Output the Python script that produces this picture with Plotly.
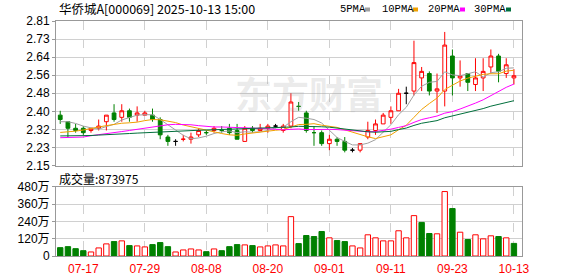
import plotly.graph_objects as go

# ---------------- data ----------------
dates = ["07-14","07-15","07-16","07-17","07-18","07-21","07-22","07-23","07-24","07-25",
         "07-28","07-29","07-30","07-31","08-01","08-04","08-05","08-06","08-07","08-08",
         "08-11","08-12","08-13","08-14","08-15","08-18","08-19","08-20","08-21","08-22",
         "08-25","08-26","08-27","08-28","08-29","09-01","09-02","09-03","09-04","09-05",
         "09-08","09-09","09-10","09-11","09-12","09-15","09-16","09-17","09-18","09-19",
         "09-22","09-23","09-24","09-25","09-26","09-29","09-30","10-09","10-10","10-13"]

opens  = [2.38,2.35,2.32,2.32,2.31,2.32,2.35,2.39,2.37,2.40,
          2.38,2.38,2.38,2.36,2.28,2.26,2.27,2.27,2.29,2.30,
          2.31,2.31,2.32,2.31,2.26,2.32,2.31,2.32,2.33,2.31,
          2.33,2.42,2.39,2.30,2.30,2.25,2.27,2.26,2.22,2.22,
          2.28,2.31,2.34,2.37,2.40,2.48,2.49,2.55,2.57,2.49,
          2.49,2.65,2.55,2.57,2.52,2.55,2.60,2.65,2.57,2.55]
highs  = [2.40,2.35,2.34,2.33,2.32,2.36,2.38,2.43,2.43,2.41,
          2.42,2.40,2.41,2.37,2.29,2.27,2.29,2.30,2.32,2.31,
          2.33,2.33,2.34,2.34,2.33,2.33,2.34,2.34,2.34,2.34,
          2.48,2.44,2.40,2.33,2.31,2.29,2.28,2.28,2.23,2.25,
          2.35,2.36,2.39,2.42,2.50,2.51,2.72,2.60,2.58,2.57,
          2.76,2.68,2.63,2.57,2.64,2.64,2.68,2.66,2.64,2.59]
lows   = [2.34,2.28,2.30,2.29,2.30,2.31,2.31,2.35,2.35,2.35,
          2.35,2.38,2.35,2.27,2.24,2.24,2.26,2.25,2.28,2.29,
          2.30,2.30,2.29,2.27,2.26,2.30,2.31,2.30,2.32,2.30,
          2.32,2.40,2.30,2.24,2.24,2.22,2.24,2.21,2.21,2.21,
          2.27,2.29,2.34,2.34,2.40,2.43,2.47,2.49,2.47,2.39,
          2.42,2.47,2.51,2.49,2.49,2.49,2.57,2.53,2.55,2.52]
closes = [2.36,2.32,2.31,2.30,2.32,2.33,2.38,2.36,2.40,2.37,
          2.39,2.39,2.36,2.29,2.26,2.26,2.27,2.28,2.31,2.30,
          2.32,2.31,2.30,2.27,2.32,2.31,2.32,2.33,2.33,2.33,
          2.44,2.42,2.31,2.30,2.25,2.27,2.26,2.22,2.22,2.25,
          2.31,2.34,2.38,2.40,2.48,2.48,2.62,2.58,2.49,2.50,
          2.70,2.55,2.56,2.53,2.55,2.58,2.65,2.58,2.61,2.56]

ma5  = [2.350,2.350,2.342,2.330,2.322,2.316,2.328,2.338,2.358,2.368,
        2.380,2.382,2.382,2.360,2.338,2.312,2.288,2.272,2.276,2.284,
        2.296,2.304,2.308,2.300,2.304,2.302,2.304,2.310,2.322,2.324,
        2.350,2.370,2.366,2.360,2.344,2.310,2.278,2.260,2.244,2.244,
        2.252,2.268,2.300,2.336,2.382,2.416,2.472,2.512,2.530,2.534,
        2.578,2.564,2.560,2.568,2.578,2.554,2.574,2.578,2.594,2.596]
ma10 = [2.301,2.303,2.307,2.312,2.320,2.326,2.332,2.338,2.343,2.345,
        2.348,2.355,2.360,2.359,2.353,2.346,2.335,2.327,2.318,2.311,
        2.304,2.296,2.290,2.288,2.294,2.299,2.304,2.309,2.311,2.314,
        2.326,2.337,2.338,2.341,2.334,2.330,2.324,2.313,2.302,2.294,
        2.281,2.273,2.280,2.290,2.313,2.334,2.370,2.406,2.433,2.458,
        2.497,2.518,2.536,2.549,2.556,2.566,2.569,2.569,2.581,2.585]
ma20 = [2.277,2.278,2.279,2.280,2.286,2.290,2.295,2.300,2.305,2.310,
        2.315,2.320,2.325,2.332,2.336,2.338,2.338,2.336,2.332,2.328,
        2.326,2.326,2.325,2.324,2.324,2.323,2.320,2.318,2.315,2.313,
        2.315,2.317,2.314,2.315,2.314,2.315,2.314,2.311,2.307,2.304,
        2.304,2.305,2.309,2.316,2.324,2.332,2.347,2.360,2.368,2.376,
        2.389,2.396,2.408,2.420,2.435,2.450,2.470,2.488,2.507,2.522]
ma30 = [2.285,2.285,2.286,2.286,2.287,2.289,2.290,2.292,2.294,2.296,
        2.298,2.300,2.302,2.304,2.306,2.308,2.309,2.310,2.311,2.312,
        2.313,2.314,2.315,2.316,2.318,2.319,2.320,2.321,2.322,2.323,
        2.326,2.329,2.329,2.329,2.327,2.325,2.321,2.316,2.310,2.306,
        2.304,2.302,2.303,2.306,2.314,2.321,2.333,2.343,2.349,2.355,
        2.368,2.376,2.385,2.393,2.401,2.410,2.421,2.429,2.439,2.446]

volumes = [580000,650000,510000,370000,280000,560000,840000,1000000,1050000,720000,
           700000,630000,790000,930000,650000,280000,420000,490000,420000,300000,
           490000,370000,650000,790000,770000,720000,630000,700000,770000,700000,
           2730000,860000,1420000,1350000,1700000,1260000,1070000,1000000,700000,560000,
           1470000,1260000,1050000,1050000,1750000,1260000,2800000,2330000,1560000,1540000,
           4470000,3290000,1650000,1140000,1470000,1190000,1400000,1350000,1260000,873975]

x_tick_labels = ["07-17","07-29","08-08","08-20","09-01","09-11","09-23","10-13"]
price_tick_labels = ["2.15","2.23","2.32","2.40","2.48","2.56","2.64","2.73","2.81"]
vol_tick_vals = [0, 1200000, 2400000, 3600000, 4800000]
vol_tick_labels = ["0", "120万", "240万", "360万", "480万"]

title_text = "华侨城A[000069] 2025-10-13 15:00"
ma_names = ["5PMA", "10PMA", "20PMA", "30PMA"]

# ---------------- styles ----------------
RED = "#ff0000"
GREEN = "#008000"
BLACK = "#000000"
MA_COLORS = ["#a0a0a0", "#f0a000", "#ff00ff", "#006f3c"]
GRID = "#d0d0d0"
BORDER = "#999999"
W, H = 578, 276
ML, MR, MT, MB = 56, 56, 21, 20
PW, PH = W - ML - MR, H - MT - MB

def px(x):
    return (x - ML) / PW

def py(y):
    return (H - MB - y) / PH

n = len(dates)
xi = list(range(n))
tick_idx = [dates.index(d) for d in x_tick_labels]

# candle groups
groups = {"up": [], "down": [], "doji_r": [], "doji_g": [], "doji_k": []}
for i in range(n):
    o, c = opens[i], closes[i]
    if c > o:
        groups["up"].append(i)
    elif c < o:
        groups["down"].append(i)
    else:
        pc = closes[i - 1] if i > 0 else c
        if c > pc:
            groups["doji_r"].append(i)
        elif c < pc:
            groups["doji_g"].append(i)
        else:
            groups["doji_k"].append(i)

style = {"up": (RED, "#ffffff"), "down": (GREEN, GREEN),
         "doji_r": (RED, RED), "doji_g": (GREEN, GREEN), "doji_k": (BLACK, BLACK)}

fig = go.Figure()
for key, idxs in groups.items():
    if not idxs:
        continue
    lc, fc = style[key]
    fig.add_trace(go.Candlestick(
        x=idxs,
        open=[opens[i] for i in idxs], high=[highs[i] for i in idxs],
        low=[lows[i] for i in idxs], close=[closes[i] for i in idxs],
        increasing=dict(line=dict(color=lc, width=1), fillcolor=fc),
        decreasing=dict(line=dict(color=lc, width=1), fillcolor=fc),
        whiskerwidth=0, showlegend=False, hoverinfo="skip",
        xaxis="x", yaxis="y"))

for vals, col in zip([ma5, ma10, ma20, ma30], MA_COLORS):
    fig.add_trace(go.Scatter(x=xi, y=vals, mode="lines",
                             line=dict(color=col, width=1),
                             showlegend=False, hoverinfo="skip",
                             xaxis="x", yaxis="y"))

# volume colours: red when close >= previous close
vol_up = [(closes[i] >= closes[i - 1]) if i > 0 else (closes[i] > opens[i]) for i in range(n)]
fig.add_trace(go.Bar(
    x=xi, y=volumes,
    marker=dict(color=["#ffffff" if u else GREEN for u in vol_up],
                line=dict(color=[RED if u else GREEN for u in vol_up], width=1)),
    showlegend=False, hoverinfo="skip", xaxis="x2", yaxis="y2"))

xrange = [-0.55, n + 0.05]
pmin, pmax = 2.15, 2.81
price_tick_vals = [pmin + k * (pmax - pmin) / (len(price_tick_labels) - 1)
                   for k in range(len(price_tick_labels))]

tick_font = dict(family="Liberation Sans, Arial, Noto Sans CJK SC", size=12, color="#000000")

common_x = dict(range=xrange, tickvals=tick_idx, showgrid=True, gridcolor=GRID,
                griddash="dash", gridwidth=1, zeroline=False, showline=True,
                linecolor=BORDER, linewidth=1, mirror=True, fixedrange=True,
                automargin=False)

price_bot = 165.5
vol_top = 186.8

fig.update_layout(
    width=W, height=H,
    margin=dict(l=ML, r=MR, t=MT, b=MB, pad=0, autoexpand=False),
    paper_bgcolor="#ffffff", plot_bgcolor="#ffffff",
    hovermode=False, bargap=0.3, showlegend=False,
    xaxis=dict(domain=[0, 1], anchor="y", showticklabels=False, ticks="",
               rangeslider=dict(visible=False), **common_x),
    xaxis2=dict(domain=[0, 1], anchor="y2", ticktext=x_tick_labels,
                tickfont=dict(family="Liberation Sans, Arial", size=12, color=RED),
                ticks="outside", ticklen=2, tickcolor="rgba(0,0,0,0)", **common_x),
    yaxis=dict(domain=[py(price_bot), 1], anchor="x", range=[pmin, pmax],
               tickvals=price_tick_vals, ticktext=price_tick_labels,
               tickfont=tick_font, showgrid=True, gridcolor=GRID, zeroline=False,
               showline=True, linecolor=BORDER, linewidth=1, mirror=True,
               ticks="outside", ticklen=3, tickcolor=BORDER, fixedrange=True,
               automargin=False),
    yaxis2=dict(domain=[0, py(vol_top)], anchor="x2", range=[0, vol_tick_vals[-1]],
                tickvals=vol_tick_vals, ticktext=vol_tick_labels,
                tickfont=tick_font, showgrid=True, gridcolor=GRID, zeroline=False,
                showline=True, linecolor=BORDER, linewidth=1, mirror=True,
                ticks="outside", ticklen=3, tickcolor=BORDER, fixedrange=True,
                automargin=False),
)

cjk = "Noto Sans CJK SC"
ann = []
ann.append(dict(text=title_text, x=px(57), y=py(8.5), xref="paper", yref="paper",
                xanchor="left", yanchor="middle", showarrow=False,
                font=dict(family=cjk, size=12.5, color="#000000")))
ann.append(dict(text="成交量:" + str(volumes[-1]), x=px(57), y=py(178.5),
                xref="paper", yref="paper", xanchor="left", yanchor="middle",
                showarrow=False, font=dict(family=cjk, size=12, color="#000000")))
# watermark
ann.append(dict(text="<b>东方财富</b>", x=px(309), y=py(93), xref="paper", yref="paper",
                xanchor="center", yanchor="middle", showarrow=False,
                font=dict(family=cjk, size=37, color="rgba(150,150,150,0.2)")))

# legend (text followed by colour square)
leg_x = [338, 380, 426, 472]
leg_sq = [365, 413, 460, 506]
shapes = []
for name, col, lx, sx in zip(ma_names, MA_COLORS, leg_x, leg_sq):
    ann.append(dict(text=name, x=px(lx), y=py(9.5), xref="paper", yref="paper",
                    xanchor="left", yanchor="middle", showarrow=False,
                    font=dict(family="Liberation Mono, Courier New", size=10.5, color="#000000")))
    shapes.append(dict(type="rect", xref="paper", yref="paper",
                       x0=px(sx), x1=px(sx + 5), y0=py(11.5), y1=py(7.5),
                       fillcolor=col, line=dict(width=0)))

fig.update_layout(annotations=ann, shapes=shapes)

fig.write_html("out.html")
